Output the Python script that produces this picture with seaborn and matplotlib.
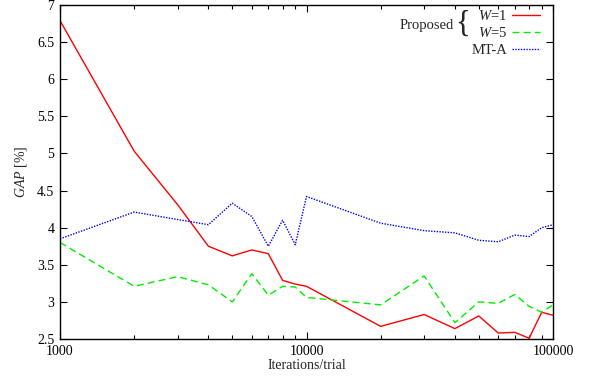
import numpy as np
import pandas as pd
import matplotlib
matplotlib.use("Agg")
import matplotlib.pyplot as plt
import seaborn as sns

# ---------------------------------------------
# Data
# ---------------------------------------------
iterations = [1000, 2000, 3000, 4000, 5000, 6000, 7000, 8000, 9000, 10000,
              20000, 30000, 40000, 50000, 60000, 70000, 80000, 90000, 100000]
gap_w1 = [6.79, 5.03, 4.31, 3.75, 3.62, 3.70, 3.65, 3.29, 3.24, 3.21,
          2.67, 2.83, 2.64, 2.81, 2.58, 2.59, 2.51, 2.86, 2.82]
gap_w5 = [3.80, 3.21, 3.34, 3.23, 3.00, 3.38, 3.09, 3.21, 3.20, 3.06,
          2.96, 3.35, 2.72, 3.00, 2.98, 3.10, 2.94, 2.86, 2.96]
gap_mta = [3.85, 4.21, 4.11, 4.04, 4.33, 4.15, 3.75, 4.10, 3.77, 4.42,
           4.06, 3.96, 3.93, 3.83, 3.81, 3.90, 3.88, 4.00, 4.04]

y_ticks = [2.5, 3, 3.5, 4, 4.5, 5, 5.5, 6, 6.5, 7]
y_tick_labels = ["2.5", "3", "3.5", "4", "4.5", "5", "5.5", "6", "6.5", "7"]
x_ticks = [1000, 10000, 100000]
x_tick_labels = ["1000", "10000", "100000"]

df = pd.DataFrame({"Iterations": iterations, "W1": gap_w1,
                   "W5": gap_w5, "MTA": gap_mta})

# ---------------------------------------------
# Style
# ---------------------------------------------
sns.set_style("ticks")
plt.rcParams["font.family"] = ["Liberation Serif", "DejaVu Serif"]
plt.rcParams["mathtext.fontset"] = "custom"
plt.rcParams["mathtext.rm"] = "Liberation Serif"
plt.rcParams["mathtext.it"] = "Liberation Serif:italic"

fig = plt.figure(figsize=(5.9, 3.8), dpi=100)
ax = fig.add_axes([60 / 590, 41 / 380, 493 / 590, 334 / 380])

sns.lineplot(data=df, x="Iterations", y="W1", ax=ax, color="#ff0000",
             linewidth=1.0, label="$W$=1")
sns.lineplot(data=df, x="Iterations", y="W5", ax=ax, color="#00ee00",
             linewidth=1.0, label="$W$=5")
sns.lineplot(data=df, x="Iterations", y="MTA", ax=ax, color="#0000ff",
             linewidth=1.0, label="MT-A")
ax.lines[1].set_dashes([5, 3])
ax.lines[2].set_dashes([1, 1])

ax.set_xscale("log")
ax.set_xlim(1000, 100000)
ax.set_ylim(2.5, 7)
ax.set_xticks(x_ticks)
ax.set_xticklabels(x_tick_labels)
ax.set_yticks(y_ticks)
ax.set_yticklabels(y_tick_labels)

ax.tick_params(which="both", direction="in", top=True, right=True,
               labelsize=10, color="black", labelcolor="black", width=0.8)
ax.tick_params(which="major", length=5, pad=4)
ax.tick_params(which="minor", length=3)
for s in ax.spines.values():
    s.set_linewidth(1.0)
    s.set_color("black")

ax.set_xlabel("Iterations/trial", fontsize=10, labelpad=1)
ax.set_ylabel("$\\mathit{GAP}$ [%]", fontsize=10, labelpad=6)

# legend: labels left of the samples, with a "Proposed {" group
leg = ax.legend(loc="upper right", bbox_to_anchor=(0.974, 0.989),
                frameon=False, markerfirst=False, fontsize=10.5,
                handlelength=1.9, handletextpad=0.35, labelspacing=0.25,
                borderaxespad=0, borderpad=0)
ax.text(0.798, 0.940, "Proposed", transform=ax.transAxes, fontsize=10.5,
        ha="right", va="center")
ax.text(0.816, 0.942, "{", transform=ax.transAxes, fontsize=22,
        ha="center", va="center", fontweight="light")

fig.savefig("out.png", dpi=100)
